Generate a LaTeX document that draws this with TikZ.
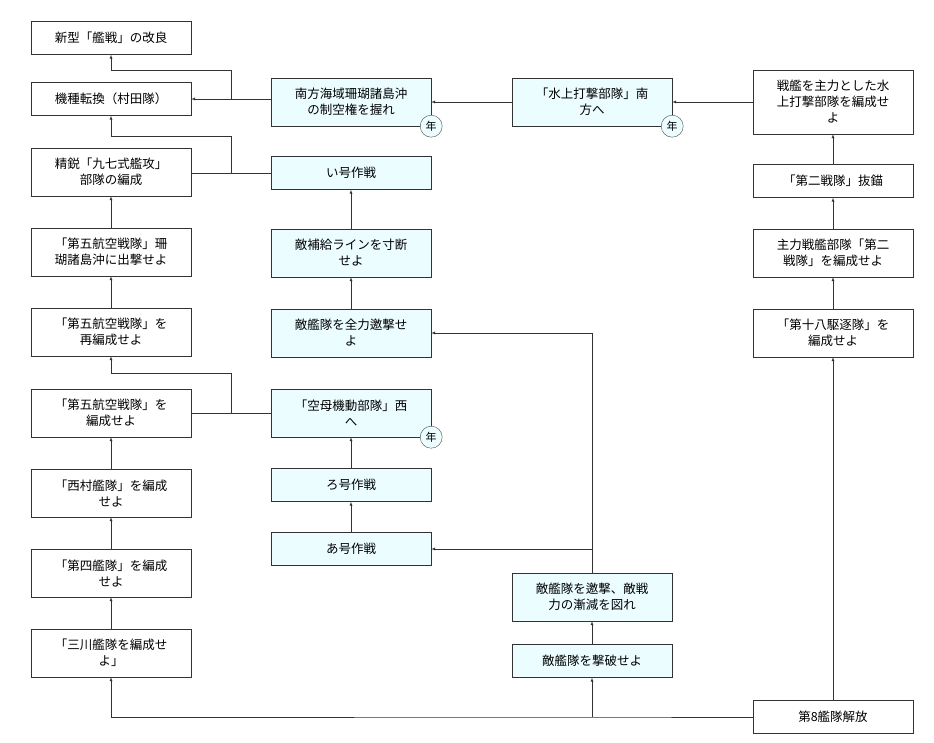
\documentclass[tikz,border=0pt]{standalone}
\usepackage{fontspec}
\setmainfont{Noto Sans CJK JP}
\begin{document}
\begin{tikzpicture}[x=1pt,y=-1pt,
    box/.style={draw=black!80,fill=white,minimum width=160pt,inner sep=2pt,align=center,font=\fontsize{12.5}{16}\selectfont},
    bluebox/.style={box,fill=blue!12!cyan!8},
    nen/.style={circle,draw=black!70,fill=blue!12!cyan!8,minimum size=22pt,inner sep=0pt,font=\fontsize{11}{12}\selectfont},
    link/.style={draw=black!80,-latex},
    tie/.style={draw=black!80}]
\useasboundingbox (0,0) rectangle (934,743);
% left column
\node[box,minimum height=33pt] (kaisen) at (111,38) {新型「艦戦」の改良};
\node[box,minimum height=33pt] (murata) at (111,99) {機種転換（村田隊）};
\node[box,minimum height=48pt] (kanko) at (111,172) {精鋭「九七式艦攻」\\部隊の編成};
\node[box,minimum height=48pt] (sango) at (111,252) {「第五航空戦隊」珊\\瑚諸島沖に出撃せよ};
\node[box,minimum height=48pt] (sai) at (111,332) {「第五航空戦隊」を\\再編成せよ};
\node[box,minimum height=48pt] (gokou) at (111,413) {「第五航空戦隊」を\\編成せよ};
\node[box,minimum height=48pt] (nishi) at (111,493) {「西村艦隊」を編成\\せよ};
\node[box,minimum height=48pt] (yon) at (111,573) {「第四艦隊」を編成\\せよ};
\node[box,minimum height=48pt] (mika) at (111,653) {「三川艦隊を編成せ\\よ」};
% middle column
\node[bluebox,minimum height=48pt] (seiku) at (351,102) {南方海域珊瑚諸島沖\\の制空権を握れ};
\node[bluebox,minimum height=33pt] (igo) at (351,173) {い号作戦};
\node[bluebox,minimum height=48pt] (hokyu) at (351,253) {敵補給ラインを寸断\\せよ};
\node[bluebox,minimum height=48pt] (zenryoku) at (351,333) {敵艦隊を全力邀撃せ\\よ};
\node[bluebox,minimum height=48pt] (kubo) at (351,413) {「空母機動部隊」西\\へ};
\node[bluebox,minimum height=33pt] (rogo) at (351,485) {ろ号作戦};
\node[bluebox,minimum height=33pt] (ago) at (351,549) {あ号作戦};
% third column
\node[bluebox,minimum height=48pt] (suijo) at (592,102) {「水上打撃部隊」南\\方へ};
\node[bluebox,minimum height=48pt] (zengen) at (592,597) {敵艦隊を邀撃、敵戦\\力の漸減を図れ};
\node[bluebox,minimum height=33pt] (gekiha) at (592,661) {敵艦隊を撃破せよ};
% right column
\node[box,minimum height=64pt] (senkan) at (833,102) {戦艦を主力とした水\\上打撃部隊を編成せ\\よ};
\node[box,minimum height=33pt] (batsu) at (833,181) {「第二戦隊」抜錨};
\node[box,minimum height=48pt] (daini) at (833,253) {主力戦艦部隊「第二\\戦隊」を編成せよ};
\node[box,minimum height=48pt] (kuchiku) at (833,333) {「第十八駆逐隊」を\\編成せよ};
\node[box,minimum height=33pt] (hachi) at (833,717) {第8艦隊解放};
% year marks
\node[nen] (n1) at (seiku.south east) {年};
\node[nen] (n2) at (suijo.south east) {年};
\node[nen] (n3) at (kubo.south east) {年};
% junction points
\coordinate (j1) at (231,99);
\coordinate (j2) at (231,173);
\coordinate (j3) at (231,413);
\coordinate (j4) at (592,549);
\coordinate (j5) at (592,717);
% connectors
\draw[link] (hachi.west) -- (j5) -- (111,717) -- (mika.south);
\draw[link] (j5) -- (gekiha.south);
\draw[link] (hachi.north) -- (kuchiku.south);
\draw[link] (kuchiku) -- (daini);
\draw[link] (daini) -- (batsu);
\draw[link] (batsu) -- (senkan);
\draw[link] (senkan) -- (suijo);
\draw[link] (suijo) -- (seiku);
\draw[link] (seiku.west |- j1) -- (murata.east |- j1);
\draw[link] (j1) -- (231,70) -- (111,70) -- (kaisen.south);
\draw[tie] (igo.west) -- (kanko.east |- j2);
\draw[link] (j2) -- (231,136) -- (111,136) -- (murata.south);
\draw[tie] (kubo.west) -- (gokou.east);
\draw[link] (j3) -- (231,373) -- (111,373) -- (sai.south);
\draw[link] (mika) -- (yon);
\draw[link] (yon) -- (nishi);
\draw[link] (nishi) -- (gokou);
\draw[link] (sai) -- (sango);
\draw[link] (sango) -- (kanko);
\draw[link] (ago) -- (rogo);
\draw[link] (rogo) -- (kubo);
\draw[link] (zenryoku) -- (hokyu);
\draw[link] (hokyu) -- (igo);
\draw[link] (gekiha) -- (zengen);
\draw[link] (zengen.north) -- (592,333) -- (zenryoku.east);
\draw[link] (j4) -- (ago.east);
\end{tikzpicture}
\end{document}
